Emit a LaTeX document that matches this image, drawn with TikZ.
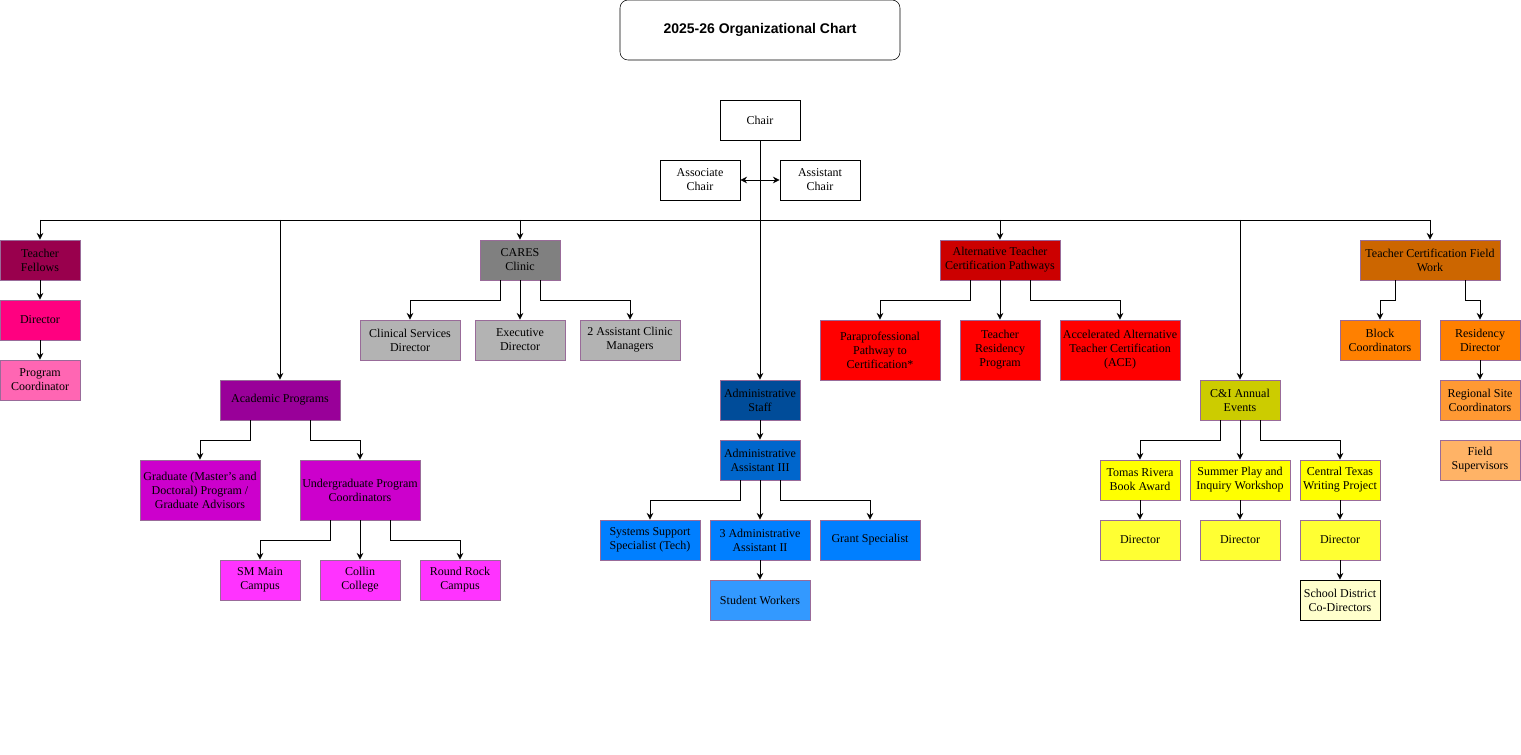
\documentclass[tikz,border=0pt]{standalone}
\usepackage{fontspec}
\setmainfont{Liberation Serif}
\newfontfamily\titlefont{Liberation Sans}
\usetikzlibrary{arrows.meta}
\begin{document}
\begin{tikzpicture}[x=0.75pt,y=-0.75pt,
  box/.style={draw=purple!30!gray, line width=0.6pt, align=center, inner sep=1pt, font=\fontsize{9}{10.5}\selectfont},
  plain/.style={box, draw=black, fill=white},
  w80/.style={minimum width=60pt}, w90/.style={minimum width=67.5pt},
  w100/.style={minimum width=75pt}, w120/.style={minimum width=90pt},
  w140/.style={minimum width=105pt},
  h40/.style={minimum height=30pt}, h60/.style={minimum height=45pt},
  link/.style={draw, line width=0.6pt, -{Stealth[length=5pt,width=5pt]}}]
\useasboundingbox (0,0) rectangle (1521,755);
\tikzset{box/.append style={draw=violet!45!gray!80}}

% title
\node[draw, rounded corners=6pt, minimum width=210pt, minimum height=45pt, font=\titlefont\bfseries\fontsize{10.5}{12}\selectfont] (title) at (760,30) {2025-26 Organizational Chart};

% top
\node[plain, w80, h40] (chair) at (760,120) {Chair};
\node[plain, w80, h40] (assoc) at (700,180) {Associate\\Chair};
\node[plain, w80, h40] (asst) at (820,180) {Assistant\\Chair};

% teacher fellows
\node[box, w80, h40, fill={rgb,255:red,153;green,0;blue,77}] (tf) at (40,260) {Teacher\\Fellows};
\node[box, w80, h40, fill={rgb,255:red,255;green,0;blue,128}] (tfdir) at (40,320) {Director};
\node[box, w80, h40, fill={rgb,255:red,255;green,102;blue,179}] (tfpc) at (40,380) {Program\\Coordinator};

% academic programs
\node[box, w120, h40, fill={rgb,255:red,153;green,0;blue,153}] (ap) at (280,400) {Academic Programs};
\node[box, w120, h60, fill={rgb,255:red,204;green,0;blue,204}] (grad) at (200,490) {Graduate (Master's and\\Doctoral) Program /\\Graduate Advisors};
\node[box, w120, h60, fill={rgb,255:red,204;green,0;blue,204}] (ugrad) at (360,490) {Undergraduate Program\\Coordinators};
\node[box, w80, h40, fill={rgb,255:red,255;green,51;blue,255}] (smm) at (260,580) {SM Main\\Campus};
\node[box, w80, h40, fill={rgb,255:red,255;green,51;blue,255}] (collin) at (360,580) {Collin\\College};
\node[box, w80, h40, fill={rgb,255:red,255;green,51;blue,255}] (rrc) at (460,580) {Round Rock\\Campus};

% cares
\node[box, w80, h40, fill={rgb,255:red,128;green,128;blue,128}] (cares) at (520,260) {CARES\\Clinic};
\node[box, w100, h40, fill={rgb,255:red,179;green,179;blue,179}] (csd) at (410,340) {Clinical Services\\Director};
\node[box, w90, h40, fill={rgb,255:red,179;green,179;blue,179}] (exd) at (520,340) {Executive\\Director};
\node[box, w100, h40, fill={rgb,255:red,179;green,179;blue,179}] (acm) at (630,340) {2 Assistant Clinic\\Managers};

% administrative staff
\node[box, w80, h40, fill={rgb,255:red,0;green,76;blue,153}] (adms) at (760,400) {Administrative\\Staff};
\node[box, w80, h40, fill={rgb,255:red,0;green,102;blue,204}] (aa3) at (760,460) {Administrative\\Assistant III};
\node[box, w100, h40, fill={rgb,255:red,0;green,127;blue,255}] (sss) at (650,540) {Systems Support\\Specialist (Tech)};
\node[box, w100, h40, fill={rgb,255:red,0;green,127;blue,255}] (aa2) at (760,540) {3 Administrative\\Assistant II};
\node[box, w100, h40, fill={rgb,255:red,0;green,127;blue,255}] (gs) at (870,540) {Grant Specialist};
\node[box, w100, h40, fill={rgb,255:red,51;green,153;blue,255}] (sw) at (760,600) {Student Workers};

% alternative certification
\node[box, w120, h40, fill={rgb,255:red,204;green,0;blue,0}] (atc) at (1000,260) {Alternative Teacher\\Certification Pathways};
\node[box, w120, h60, fill={rgb,255:red,255;green,0;blue,0}] (para) at (880,350) {Paraprofessional\\Pathway to\\Certification*};
\node[box, w80, h60, fill={rgb,255:red,255;green,0;blue,0}] (trp) at (1000,350) {Teacher\\Residency\\Program};
\node[box, w120, h60, fill={rgb,255:red,255;green,0;blue,0}] (ace) at (1120,350) {Accelerated Alternative\\Teacher Certification\\(ACE)};

% annual events
\node[box, w80, h40, fill={rgb,255:red,204;green,204;blue,0}] (ci) at (1240,400) {C\&I Annual\\Events};
\node[box, w80, h40, fill={rgb,255:red,255;green,255;blue,0}] (trba) at (1140,480) {Tomas Rivera\\Book Award};
\node[box, w100, h40, fill={rgb,255:red,255;green,255;blue,0}] (spiw) at (1240,480) {Summer Play and\\Inquiry Workshop};
\node[box, w80, h40, fill={rgb,255:red,255;green,255;blue,0}] (ctwp) at (1340,480) {Central Texas\\Writing Project};
\node[box, w80, h40, fill={rgb,255:red,255;green,255;blue,51}] (trdir) at (1140,540) {Director};
\node[box, w80, h40, fill={rgb,255:red,255;green,255;blue,51}] (spdir) at (1240,540) {Director};
\node[box, w80, h40, fill={rgb,255:red,255;green,255;blue,51}] (ctdir) at (1340,540) {Director};
\node[box, w80, h40, draw=black, fill={rgb,255:red,255;green,255;blue,204}] (sdcd) at (1340,600) {School District\\Co-Directors};

% field work
\node[box, w140, h40, fill={rgb,255:red,204;green,102;blue,0}] (tcfw) at (1430,260) {Teacher Certification Field\\Work};
\node[box, w80, h40, fill={rgb,255:red,255;green,128;blue,0}] (blk) at (1380,340) {Block\\Coordinators};
\node[box, w80, h40, fill={rgb,255:red,255;green,128;blue,0}] (resd) at (1480,340) {Residency\\Director};
\node[box, w80, h40, fill={rgb,255:red,255;green,153;blue,51}] (rsc) at (1480,400) {Regional Site\\Coordinators};
\node[box, w80, h40, fill={rgb,255:red,255;green,179;blue,102}] (fsup) at (1480,460) {Field\\Supervisors};

% trunk
\coordinate (bus) at (760,220);
\draw[link] (chair) -- (adms);
\draw[link, {Stealth[length=5pt,width=5pt]}-{Stealth[length=5pt,width=5pt]}] (assoc) -- (asst);
\draw[line width=0.6pt] (tf.north |- bus) -- (tcfw.north |- bus);
\foreach \n in {tf,cares,atc,tcfw,ap,ci}
  \draw[link] (\n.north |- bus) -- (\n);

% children
\draw[link] (tf) -- (tfdir);
\draw[link] (tfdir) -- (tfpc);
\draw[link] ([xshift=-22.5pt]ap.south) -- ++(0,20) -| (grad);
\draw[link] ([xshift=22.5pt]ap.south) -- ++(0,20) -| (ugrad);
\draw[link] ([xshift=-22.5pt]ugrad.south) -- ++(0,20) -| (smm);
\draw[link] (ugrad) -- (collin);
\draw[link] ([xshift=22.5pt]ugrad.south) -- ++(0,20) -| (rrc);
\draw[link] ([xshift=-15pt]cares.south) -- ++(0,20) -| (csd);
\draw[link] (cares) -- (exd);
\draw[link] ([xshift=15pt]cares.south) -- ++(0,20) -| (acm);
\draw[link] (adms) -- (aa3);
\draw[link] ([xshift=-15pt]aa3.south) -- ++(0,20) -| (sss);
\draw[link] (aa3) -- (aa2);
\draw[link] ([xshift=15pt]aa3.south) -- ++(0,20) -| (gs);
\draw[link] (aa2) -- (sw);
\draw[link] ([xshift=-22.5pt]atc.south) -- ++(0,20) -| (para);
\draw[link] (atc) -- (trp);
\draw[link] ([xshift=22.5pt]atc.south) -- ++(0,20) -| (ace);
\draw[link] ([xshift=-15pt]ci.south) -- ++(0,20) -| (trba);
\draw[link] (ci) -- (spiw);
\draw[link] ([xshift=15pt]ci.south) -- ++(0,20) -| (ctwp);
\draw[link] (trba) -- (trdir);
\draw[link] (spiw) -- (spdir);
\draw[link] (ctwp) -- (ctdir);
\draw[link] (ctdir) -- (sdcd);
\draw[link] ([xshift=-26.25pt]tcfw.south) -- ++(0,20) -| (blk);
\draw[link] ([xshift=26.25pt]tcfw.south) -- ++(0,20) -| (resd);
\draw[link] (resd) -- (rsc);
\end{tikzpicture}
\end{document}
